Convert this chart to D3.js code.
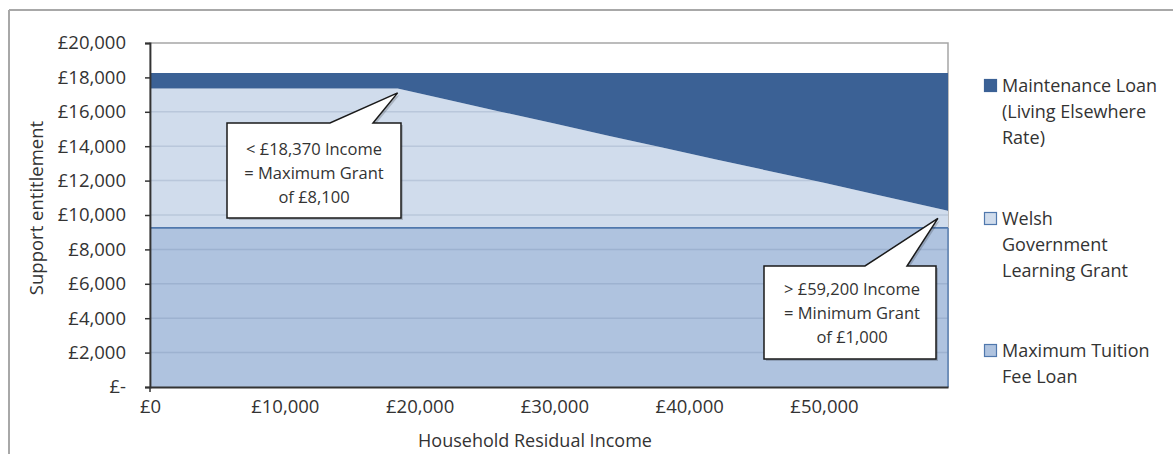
<!DOCTYPE html>
<html>
<head>
<meta charset="utf-8">
<script src="https://cdn.jsdelivr.net/npm/d3@7"></script>
<style>
  html, body { margin: 0; padding: 0; background: #fff; }
  svg { display: block; }
  text { font-family: "Open Sans", "Noto Sans", sans-serif; fill: #333; }
</style>
</head>
<body>
<svg id="chart" width="1173" height="454"></svg>
<script>
// Household residual income points (£)
const incomes = [0, 18370, 22000, 26000, 30000, 34000, 38000, 42000, 46000, 50000, 54000, 59200];
// Support components at each income point (£)
const tuitionFeeLoan = [9250, 9250, 9250, 9250, 9250, 9250, 9250, 9250, 9250, 9250, 9250, 9250];
const learningGrant  = [8100, 8100, 7460, 6760, 6070, 5360, 4680, 3980, 3300, 2620, 1920, 1000];
const maintenanceLoan = [900, 900, 1540, 2240, 2930, 3640, 4320, 5020, 5700, 6380, 7080, 8000];

const legendLines = [
  ["Maintenance Loan", "(Living Elsewhere", "Rate)"],
  ["Welsh", "Government", "Learning Grant"],
  ["Maximum Tuition", "Fee Loan"]
];

const yTicks = [0, 2000, 4000, 6000, 8000, 10000, 12000, 14000, 16000, 18000, 20000];
const yTickLabels = ["£-", "£2,000", "£4,000", "£6,000", "£8,000", "£10,000", "£12,000", "£14,000", "£16,000", "£18,000", "£20,000"];
const xTicks = [0, 10000, 20000, 30000, 40000, 50000];
const xTickLabels = ["£0", "£10,000", "£20,000", "£30,000", "£40,000", "£50,000"];

// Callout annotations: anchor in data units, text lines
const callouts = [
  { income: 18370, value: 17100, lines: ["< £18,370 Income", "= Maximum Grant", "of £8,100"] },
  { income: 58450, value: 9800, lines: ["> £59,200 Income", "= Minimum Grant", "of £1,000"] }
];

const colors = { tuition: "#afc3df", grant: "#d0dcec", loan: "#3b6195" };

const svg = d3.select("#chart");
const plot = { left: 150, right: 948, top: 43, bottom: 387 };

const x = d3.scaleLinear().domain([0, 59200]).range([plot.left, plot.right]);
const y = d3.scaleLinear().domain([0, 20000]).range([plot.bottom, plot.top]);

// Outer frame (top and left edges)
svg.append("line").attr("x1", 9).attr("x2", 1173).attr("y1", 10).attr("y2", 10)
  .attr("stroke", "#a8a8a8").attr("stroke-width", 2);
svg.append("line").attr("x1", 9).attr("x2", 9).attr("y1", 10).attr("y2", 454)
  .attr("stroke", "#a8a8a8").attr("stroke-width", 2);

// Stacked data
const rows = incomes.map((inc, i) => ({
  income: inc,
  tuition: tuitionFeeLoan[i],
  grant: learningGrant[i],
  loan: maintenanceLoan[i]
}));
const layers = d3.stack().keys(["tuition", "grant", "loan"])(rows);

const area = d3.area()
  .x(d => x(d.data.income))
  .y0(d => y(d[0]))
  .y1(d => y(d[1]));

// Plot border
svg.append("rect")
  .attr("x", plot.left).attr("y", plot.top)
  .attr("width", plot.right - plot.left).attr("height", plot.bottom - plot.top)
  .attr("fill", "#fff").attr("stroke", "#a6a6a6").attr("stroke-width", 1.5);

// Bottom two layers
svg.append("path").datum(layers[0]).attr("d", area).attr("fill", colors.tuition);
svg.append("path").datum(layers[1]).attr("d", area).attr("fill", colors.grant);

// Gridlines
svg.append("g").selectAll("line")
  .data(yTicks.filter(t => t > 0 && t < 20000))
  .join("line")
  .attr("x1", plot.left).attr("x2", plot.right)
  .attr("y1", d => y(d)).attr("y2", d => y(d))
  .attr("stroke", "rgba(70,95,130,0.16)").attr("stroke-width", 1.5);

// Top layer
svg.append("path").datum(layers[2]).attr("d", area).attr("fill", colors.loan);

// Edge of tuition fee layer
svg.append("path").datum(layers[0])
  .attr("d", d3.line().x(d => x(d.data.income)).y(d => y(d[1])))
  .attr("fill", "none").attr("stroke", "#5078ad").attr("stroke-width", 1.6);

// Right edge of the stacked areas
svg.append("line").attr("x1", plot.right).attr("x2", plot.right)
  .attr("y1", y(tuitionFeeLoan[tuitionFeeLoan.length - 1])).attr("y2", plot.bottom)
  .attr("stroke", "#5a80b3").attr("stroke-width", 1.5);

// Y axis
const yAxis = d3.axisLeft(y).tickValues(yTicks).tickFormat((d, i) => yTickLabels[i]).tickSize(5).tickPadding(19);
const gy = svg.append("g").attr("transform", `translate(${plot.left},0)`).call(yAxis);
gy.select(".domain").attr("stroke", "#333").attr("stroke-width", 1.8);
gy.selectAll(".tick line").attr("stroke", "#333").attr("stroke-width", 1.5);
gy.selectAll(".tick text").attr("font-size", 18.5).attr("fill", "#333")
  .style("font-family", "'Open Sans', sans-serif");

// X axis
const xAxis = d3.axisBottom(x).tickValues(xTicks).tickFormat((d, i) => xTickLabels[i]).tickSize(0).tickPadding(13);
const gx = svg.append("g").attr("transform", `translate(0,${plot.bottom})`).call(xAxis);
gx.select(".domain").attr("stroke", "#333").attr("stroke-width", 1.8);
gx.selectAll(".tick text").attr("font-size", 18.5).attr("fill", "#333")
  .style("font-family", "'Open Sans', sans-serif");
// tick mark at origin
svg.append("line").attr("x1", plot.left).attr("x2", plot.left)
  .attr("y1", plot.bottom).attr("y2", plot.bottom + 5)
  .attr("stroke", "#333").attr("stroke-width", 1.5);

// Axis titles
svg.append("text")
  .attr("transform", `translate(37,${208}) rotate(-90)`)
  .attr("text-anchor", "middle").attr("dy", "0.35em").attr("font-size", 18.5)
  .text("Support entitlement");
svg.append("text")
  .attr("x", 535).attr("y", 441)
  .attr("text-anchor", "middle").attr("dy", "0.35em").attr("font-size", 18)
  .text("Household Residual Income");

// Callouts
const boxes = [
  { x0: 227, x1: 401, y0: 123, y1: 218, b0: 330, b1: 373, tx: 314, ty: 149 },
  { x0: 764, x1: 936, y0: 266, y1: 359, b0: 865, b1: 907, tx: 852, ty: 289 }
];
callouts.forEach((c, i) => {
  const b = boxes[i];
  const tipX = x(c.income), tipY = y(c.value);
  const pts = [[b.x0, b.y0], [b.b0, b.y0], [tipX, tipY], [b.b1, b.y0], [b.x1, b.y0], [b.x1, b.y1], [b.x0, b.y1]];
  const d = "M" + pts.map(p => p.join(",")).join("L") + "Z";
  const g = svg.append("g");
  g.append("path").attr("d", d).attr("transform", "translate(2,2)").attr("fill", "rgba(0,0,0,0.18)");
  g.append("path").attr("d", d)
    .attr("fill", "#fff").attr("stroke", "#1a1a1a").attr("stroke-width", 1.5)
    .attr("stroke-linejoin", "miter");
  c.lines.forEach((ln, j) => {
    g.append("text")
      .attr("x", b.tx).attr("y", b.ty + j * 24)
      .attr("dy", "0.35em")
      .attr("text-anchor", "middle").attr("font-size", 16.5)
      .attr("fill", "#1f1f1f")
      .text(ln);
  });
});

// Legend
const legendItems = [
  { color: colors.loan, stroke: colors.loan, sy: 79, lines: legendLines[0], ty: 86 },
  { color: colors.grant, stroke: "#5078ad", sy: 212, lines: legendLines[1], ty: 219 },
  { color: colors.tuition, stroke: "#5078ad", sy: 344, lines: legendLines[2], ty: 351 }
];
const lg = svg.append("g");
legendItems.forEach(item => {
  lg.append("rect")
    .attr("x", 984.5).attr("y", item.sy + 0.5)
    .attr("width", 12).attr("height", 12)
    .attr("fill", item.color).attr("stroke", item.stroke).attr("stroke-width", 1.2);
  item.lines.forEach((ln, j) => {
    lg.append("text")
      .attr("x", 1002).attr("y", item.ty + j * 26)
      .attr("dy", "0.35em").attr("font-size", 18)
      .text(ln);
  });
});
</script>
</body>
</html>
